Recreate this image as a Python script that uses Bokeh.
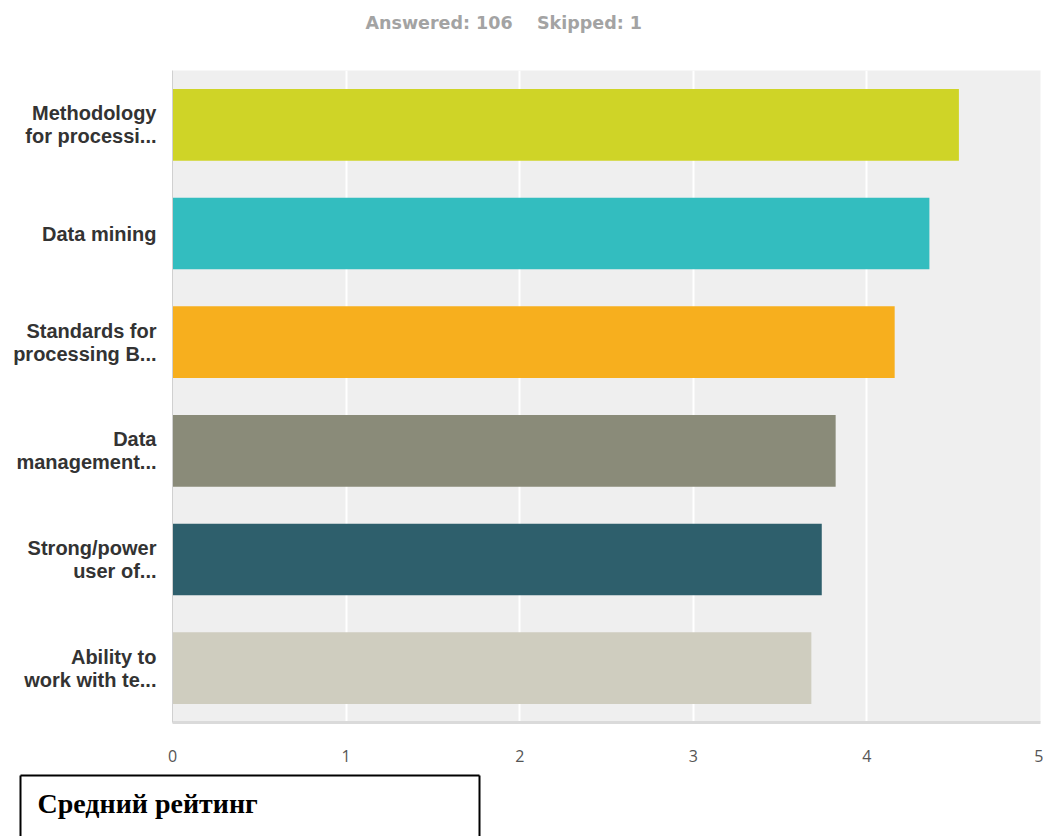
from bokeh.plotting import figure
from bokeh.models import ColumnDataSource, FixedTicker
from bokeh.core.properties import value
from bokeh.embed import file_html
from bokeh.resources import INLINE

categories = [
    "Methodology\nfor processi...",
    "Data mining",
    "Standards for\nprocessing B...",
    "Data\nmanagement...",
    "Strong/power\nuser of...",
    "Ability to\nwork with te...",
]
values = [4.53, 4.36, 4.16, 3.82, 3.74, 3.68]
colors = ["#CFD427", "#33BDBF", "#F7AF1E", "#8A8B79", "#2E5F6C", "#CFCDBF"]
x_ticks = [0, 1, 2, 3, 4, 5]
NB = "\u00a0"
title_text = ["Answered:" + NB + "106" + NB * 4 + "Skipped:" + NB + "1"]
box_text = ["Средний рейтинг"]


def blank(h):
    f = figure(width=1043, height=h, x_range=(0, 1043), y_range=(h, 0),
               output_backend="svg", toolbar_location=None,
               x_axis_location=None, y_axis_location=None,
               min_border_left=0, min_border_right=0, min_border_top=0, min_border_bottom=0)
    f.outline_line_color = None
    f.xgrid.grid_line_color = None
    f.ygrid.grid_line_color = None
    return f


# title strip
t = blank(50)
t.text(x=[365], y=[22], text=title_text, text_font=value("DejaVu Sans"),
       text_font_style="bold", text_font_size="17.5px", text_color="#A3A3A3",
       text_baseline="alphabetic", text_align="left")

# main chart
source = ColumnDataSource(dict(cat=categories, val=values, color=colors))

p = figure(
    width=1043, height=716,
    y_range=list(reversed(categories)),
    x_range=(0, 5),
    output_backend="svg", toolbar_location=None,
    min_border_left=172, min_border_right=3,
    min_border_top=20, min_border_bottom=44,
)
p.hbar(y="cat", right="val", left=0, height=0.66, color="color", source=source, line_color=None)

p.background_fill_color = "#EFEFEF"
p.outline_line_color = None
p.y_range.range_padding = 0
p.ygrid.grid_line_color = None
p.xgrid.grid_line_color = "white"
p.xgrid.grid_line_width = 2
p.xaxis.ticker = FixedTicker(ticks=x_ticks)
p.xaxis.major_tick_line_color = None
p.xaxis.minor_tick_line_color = None
p.xaxis.axis_line_color = "#DADADA"
p.xaxis.axis_line_width = 3
p.xaxis.major_label_standoff = 21
p.xaxis.major_label_text_font = "Open Sans"
p.xaxis.major_label_text_font_size = "16px"
p.xaxis.major_label_text_color = "#555555"

p.yaxis.major_tick_line_color = None
p.yaxis.minor_tick_line_color = None
p.yaxis.axis_line_color = "#D0D0D0"
p.yaxis.axis_line_width = 1
p.yaxis.major_label_standoff = 10
p.yaxis.major_label_text_font = "Liberation Sans"
p.yaxis.major_label_text_font_style = "bold"
p.yaxis.major_label_text_font_size = "20px"
p.yaxis.major_label_text_line_height = 1.05
p.yaxis.major_label_text_color = "#333333"

# bottom box
b = blank(70)
b.multi_line(xs=[[20, 20], [20, 479], [479, 479]], ys=[[9, 80], [9, 9], [9, 80]],
             line_color="black", line_width=2)
b.text(x=[37], y=[37], text=box_text, text_font=value("Liberation Serif"),
       text_font_style="bold", text_font_size="28px", text_color="black",
       text_baseline="alphabetic", text_align="left")

open("out.html", "w").write(file_html([t, p, b], INLINE))
